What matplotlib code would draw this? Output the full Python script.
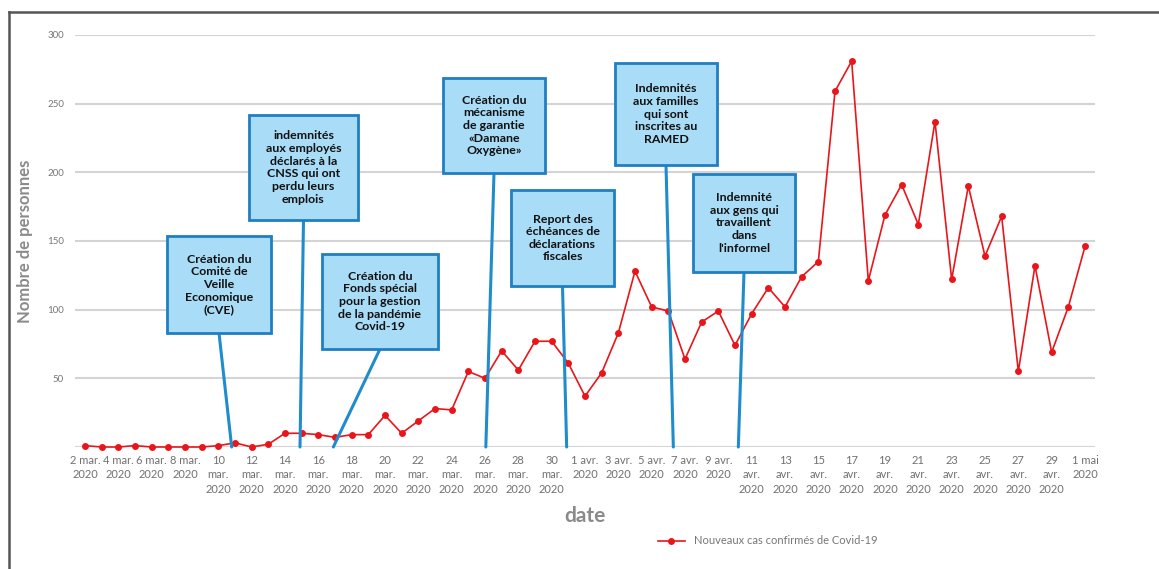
import matplotlib
matplotlib.use("Agg")
import matplotlib.pyplot as plt
from matplotlib.patches import Rectangle
from matplotlib.lines import Line2D

# ---------------- data ----------------
days = list(range(61))  # 2 mar 2020 .. 1 mai 2020
new_cases = [1, 0, 0, 1, 0, 0, 0, 0, 1, 3, 0, 2, 10, 10, 9, 7, 9, 9, 23, 10,
             19, 28, 27, 55, 50, 70, 56, 77, 77, 61, 37, 54, 83, 128, 102, 99,
             64, 91, 99, 74, 97, 116, 102, 124, 135, 259, 281, 121, 169, 191,
             162, 237, 122, 190, 139, 168, 55, 132, 69, 102, 146]
tick_positions = list(range(0, 61, 2))
tick_labels = ["2 mar.\n2020", "4 mar.\n2020", "6 mar.\n2020", "8 mar.\n2020",
               "10\nmar.\n2020", "12\nmar.\n2020", "14\nmar.\n2020", "16\nmar.\n2020",
               "18\nmar.\n2020", "20\nmar.\n2020", "22\nmar.\n2020", "24\nmar.\n2020",
               "26\nmar.\n2020", "28\nmar.\n2020", "30\nmar.\n2020",
               "1 avr.\n2020", "3 avr.\n2020", "5 avr.\n2020", "7 avr.\n2020", "9 avr.\n2020",
               "11\navr.\n2020", "13\navr.\n2020", "15\navr.\n2020", "17\navr.\n2020",
               "19\navr.\n2020", "21\navr.\n2020", "23\navr.\n2020", "25\navr.\n2020",
               "27\navr.\n2020", "29\navr.\n2020", "1 mai\n2020"]
y_ticks = [50, 100, 150, 200, 250, 300]
series_name = "Nouveaux cas confirmés de Covid-19"

event_texts = [
    "Création du\nComité de\nVeille\nEconomique\n(CVE)",
    "indemnités\naux employés\ndéclarés à la\nCNSS qui ont\nperdu leurs\nemplois",
    "Création du\nFonds spécial\npour la gestion\nde la pandémie\nCovid-19",
    "Création du\nmécanisme\nde garantie\n«Damane\nOxygène»",
    "Report des\néchéances de\ndéclarations\nfiscales",
    "Indemnités\naux familles\nqui sont\ninscrites au\nRAMED",
    "Indemnité\naux gens qui\ntravaillent\ndans\nl'informel",
]
event_days = [8.8, 12.9, 14.9, 24.05, 28.9, 35.3, 39.2]

# box geometry in pixels (left, top, right, bottom), image coords from top
event_boxes = [
    (167, 236, 271, 333),
    (249, 115, 358, 220),
    (322, 254, 438, 349),
    (443, 78, 545, 173),
    (511, 190, 614, 286),
    (615, 63, 717, 165),
    (693, 174, 795, 272),
]

# ---------------- figure ----------------
W, H = 1159, 569
plt.rcParams['font.family'] = ['Lato', 'DejaVu Sans']
fig = plt.figure(figsize=(W / 100, H / 100), dpi=100)
fig.patch.set_facecolor('white')

ax_l, ax_r, ax_t, ax_b = 75, 1095, 35, 447
ax = fig.add_axes([ax_l / W, 1 - ax_b / H, (ax_r - ax_l) / W, (ax_b - ax_t) / H])
ax.set_xlim(-0.6, 60.6)
ax.set_ylim(0, 300)

red = '#e8161b'
ax.plot(days, new_cases, color=red, lw=1.2, marker='o', markersize=5,
        markeredgewidth=0, label=series_name, clip_on=False, zorder=3)

ax.set_yticks(y_ticks)
ax.set_yticklabels([str(v) for v in y_ticks], fontsize=7, color='#777777')
ax.set_xticks(tick_positions)
ax.set_xticklabels(tick_labels, fontsize=8, color='#707070', linespacing=1.35)
ax.tick_params(axis='both', length=0)
ax.tick_params(axis='y', pad=8)
ax.tick_params(axis='x', pad=6)
for s in ax.spines.values():
    s.set_visible(False)
ax.grid(axis='y', color='#d4d4d4', lw=1.5)
ax.axhline(0, color='#d4d4d4', lw=1.5, zorder=1)
ax.set_axisbelow(True)

ax.set_ylabel("Nombre de personnes", fontsize=12, fontweight='bold',
              color='#8a8a8a', labelpad=10)
ax.set_xlabel("date", fontsize=15, fontweight='bold', color='#8a8a8a', labelpad=8)

# annotations
line_blue = '#1f8ccc'
for txt, d, (l, t, r, b) in zip(event_texts, event_days, event_boxes):
    cx = (l + r) / 2
    ax.annotate('', xy=(d, 0), xycoords='data',
                xytext=(cx / W, 1 - b / H), textcoords='figure fraction',
                arrowprops=dict(arrowstyle='-', color=line_blue, lw=2.2,
                                shrinkA=0, shrinkB=0),
                annotation_clip=False, zorder=4)
    fig.patches.append(Rectangle((l / W, 1 - b / H), (r - l) / W, (b - t) / H,
                                 transform=fig.transFigure, facecolor='#a9dcf6',
                                 edgecolor='#1f7fc2', lw=2.0, zorder=5))
    fig.text(cx / W, 1 - (t + b) / 2 / H, txt, ha='center', va='center',
             fontsize=8.9, fontweight='bold', color='#111111',
             linespacing=1.18, zorder=6)

# legend
handle = Line2D([], [], color=red, lw=1.2, marker='o', markersize=5,
                markeredgewidth=0)
fig.legend([handle], [series_name], loc='center left',
           bbox_to_anchor=(648 / W, 1 - 541 / H), frameon=False,
           fontsize=8, labelcolor='#777777', handlelength=2.4)

# outer frame (top and left)
fig.add_artist(Line2D([9 / W, 1], [1 - 12 / H, 1 - 12 / H], transform=fig.transFigure,
                      color='#555555', lw=1.8))
fig.add_artist(Line2D([9 / W, 9 / W], [0, 1 - 12 / H], transform=fig.transFigure,
                      color='#555555', lw=1.8))

fig.savefig('out.png', dpi=100, facecolor='white')
